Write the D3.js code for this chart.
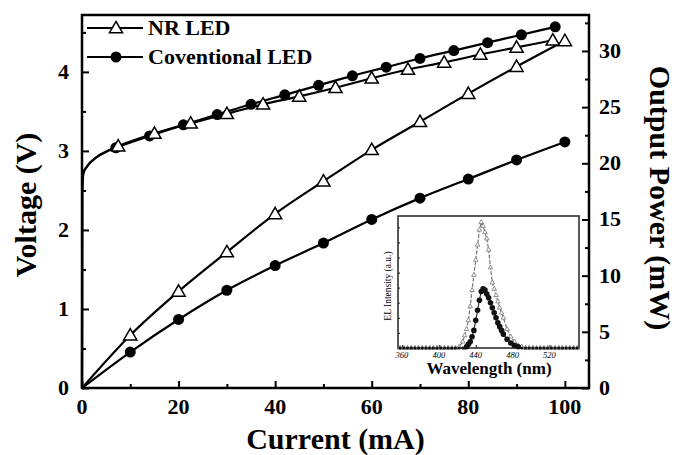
<!DOCTYPE html>
<html>
<head>
<meta charset="utf-8">
<script src="https://cdn.jsdelivr.net/npm/d3@7"></script>
<style>
  body { margin: 0; background: #fff; }
</style>
</head>
<body>
<div id="chart"></div>
<script>
(function () {
  "use strict";

  ////////////////////////////////////////////////////////////////////////////////////////////////////////////
  //
  // Data
  //
  // Shared turn-on part of the I-V curves (current mA, voltage V)
  var turnOnCurrent = [0, 0.05, 0.3, 1, 3, 5];
  var turnOnVoltage = [0, 2.5, 2.72, 2.8, 2.92, 2.99];

  // Voltage, NR LED (triangles)
  var nrVoltCurrent = [7.5, 15, 22.5, 30, 37.5, 45, 52.5, 60, 67.5, 75, 82.5, 90, 97.5];
  var nrVoltage = [3.06, 3.22, 3.35, 3.47, 3.59, 3.69, 3.8, 3.92, 4.03, 4.12, 4.22, 4.31, 4.4];

  // Voltage, conventional LED (circles)
  var convVoltCurrent = [7, 14, 21, 28, 35, 42, 49, 56, 63, 70, 77, 84, 91, 98];
  var convVoltage = [3.04, 3.19, 3.33, 3.46, 3.59, 3.71, 3.83, 3.95, 4.06, 4.17, 4.27, 4.37, 4.47, 4.57];

  // Output power (mW)
  var powerCurrent = [0, 10, 20, 30, 40, 50, 60, 70, 80, 90, 100];
  var nrPower = [0, 4.7, 8.6, 12.1, 15.5, 18.4, 21.2, 23.7, 26.2, 28.6, 30.9];
  var convPower = [0, 3.2, 6.1, 8.7, 10.9, 12.9, 15.0, 16.9, 18.6, 20.3, 21.9];

  // Inset: EL spectra (nm, a.u.)
  var specWl = [358, 362, 366, 370, 374, 378, 382, 386, 390, 394, 398, 402, 406, 410, 414, 418, 422, 426, 428, 430,
    432, 434, 436, 438, 440, 442, 444, 446, 448, 450, 452, 454, 456, 458, 460, 462, 464, 466, 468, 470,
    474, 478, 482, 486, 490, 494, 498, 502, 506, 510, 514, 518, 522, 526, 530, 534, 538, 542, 546, 550];
  var nrSpec = [0, 0, 0, 0, 0, 0, 0, 0, 0, 0, 0, 0, 0, 0, 0, 0, 0.01, 0.05, 0.1, 0.15,
    0.22, 0.33, 0.46, 0.58, 0.7, 0.82, 0.94, 1.0, 0.97, 0.92, 0.87, 0.78, 0.64, 0.52, 0.47, 0.42, 0.37, 0.32, 0.28, 0.24,
    0.15, 0.09, 0.05, 0.02, 0.01, 0, 0, 0, 0, 0, 0, 0, 0, 0, 0, 0, 0, 0, 0, 0];
  var convSpec = [0, 0, 0, 0, 0, 0, 0, 0, 0, 0, 0, 0, 0, 0, 0, 0, 0, 0, 0, 0.01,
    0.03, 0.05, 0.09, 0.14, 0.22, 0.3, 0.38, 0.45, 0.47, 0.46, 0.43, 0.4, 0.36, 0.32, 0.28, 0.24, 0.2, 0.17, 0.14, 0.11,
    0.07, 0.04, 0.02, 0.01, 0, 0, 0, 0, 0, 0, 0, 0, 0, 0, 0, 0, 0, 0, 0, 0];

  // Tick values
  var xTicks = [0, 20, 40, 60, 80, 100];
  var yLeftTicks = [0, 1, 2, 3, 4];
  var yRightTicks = [0, 5, 10, 15, 20, 25, 30];
  var insetXTicks = [360, 400, 440, 480, 520];

  var legendLabels = ["NR LED", "Coventional LED"];

  ////////////////////////////////////////////////////////////////////////////////////////////////////////////
  //
  // Layout
  //
  var W = 678, H = 455;
  var plot = { left: 82, right: 589, top: 15, bottom: 388 };
  var inset = { left: 398, right: 579, top: 216, bottom: 348 };
  var SERIF = "'Liberation Serif', 'DejaVu Serif', 'Times New Roman', serif";

  var svg = d3.select("#chart").append("svg")
    .attr("width", W)
    .attr("height", H)
    .attr("font-family", SERIF);

  var x = d3.scaleLinear().domain([0, 105]).range([plot.left, plot.right]);
  var yV = d3.scaleLinear().domain([0, 4.72]).range([plot.bottom, plot.top]);
  var yP = d3.scaleLinear().domain([0, 33.2]).range([plot.bottom, plot.top]);

  function zip(a, b) {
    return a.map(function (d, i) { return [d, b[i]]; });
  }

  function label(g, size, bold) {
    return g.append("text")
      .attr("font-family", SERIF)
      .attr("font-size", size)
      .attr("font-weight", bold === false ? "normal" : "bold")
      .attr("fill", "#000");
  }

  var triangle = d3.symbol().type(d3.symbolTriangle).size(75);
  var smallTriangle = d3.symbol().type(d3.symbolTriangle).size(9);

  ////////////////////////////////////////////////////////////////////////////////////////////////////////////
  //
  // Axes (ticks pointing inward, minor ticks between majors)
  //
  var axisG = svg.append("g").attr("class", "axes");

  axisG.append("g")
    .attr("transform", "translate(0," + plot.bottom + ")")
    .call(d3.axisTop(x).tickValues(d3.range(10, 105, 20)).tickSize(4).tickFormat(""));
  axisG.append("g")
    .attr("transform", "translate(0," + plot.bottom + ")")
    .call(d3.axisTop(x).tickValues(xTicks).tickSize(7).tickFormat(""));
  axisG.append("g")
    .attr("transform", "translate(" + plot.left + ",0)")
    .call(d3.axisRight(yV).tickValues([0.5, 1.5, 2.5, 3.5, 4.5]).tickSize(4).tickFormat(""));
  axisG.append("g")
    .attr("transform", "translate(" + plot.left + ",0)")
    .call(d3.axisRight(yV).tickValues(yLeftTicks).tickSize(7).tickFormat(""));
  axisG.append("g")
    .attr("transform", "translate(" + plot.right + ",0)")
    .call(d3.axisLeft(yP).tickValues([2.5, 7.5, 12.5, 17.5, 22.5, 27.5, 32.5]).tickSize(4).tickFormat(""));
  axisG.append("g")
    .attr("transform", "translate(" + plot.right + ",0)")
    .call(d3.axisLeft(yP).tickValues(yRightTicks).tickSize(7).tickFormat(""));
  axisG.selectAll(".domain").remove();
  axisG.selectAll(".tick line").attr("stroke", "#000").attr("stroke-width", 2);

  // Frame
  svg.append("rect")
    .attr("x", plot.left).attr("y", plot.top)
    .attr("width", plot.right - plot.left).attr("height", plot.bottom - plot.top)
    .attr("fill", "none").attr("stroke", "#000").attr("stroke-width", 2.5);

  // Tick labels
  xTicks.forEach(function (d) {
    label(svg, 22).attr("x", x(d)).attr("y", plot.bottom + 26).attr("text-anchor", "middle").text(d);
  });
  yLeftTicks.forEach(function (d) {
    label(svg, 22).attr("x", plot.left - 13).attr("y", yV(d) + 7).attr("text-anchor", "end").text(d);
  });
  yRightTicks.forEach(function (d) {
    label(svg, 22).attr("x", plot.right + 10).attr("y", yP(d) + 7).attr("text-anchor", "start").text(d);
  });

  // Axis titles
  label(svg, 30).attr("x", (plot.left + plot.right) / 2).attr("y", 449)
    .attr("text-anchor", "middle").text("Current (mA)");
  label(svg, 30).attr("transform", "translate(36,205) rotate(-90)")
    .attr("text-anchor", "middle").text("Voltage (V)");
  label(svg, 30).attr("transform", "translate(650,198) rotate(90)")
    .attr("text-anchor", "middle").text("Output Power (mW)");

  ////////////////////////////////////////////////////////////////////////////////////////////////////////////
  //
  // Series
  //
  var lineV = d3.line()
    .x(function (d) { return x(d[0]); })
    .y(function (d) { return yV(d[1]); })
    .curve(d3.curveMonotoneX);
  var lineP = d3.line()
    .x(function (d) { return x(d[0]); })
    .y(function (d) { return yP(d[1]); })
    .curve(d3.curveMonotoneX);

  var turnOn = zip(turnOnCurrent, turnOnVoltage);
  var nrV = zip(nrVoltCurrent, nrVoltage);
  var convV = zip(convVoltCurrent, convVoltage);
  var nrP = zip(powerCurrent, nrPower);
  var convP = zip(powerCurrent, convPower);

  var lines = svg.append("g").attr("fill", "none").attr("stroke", "#000").attr("stroke-width", 2.2);
  lines.append("path").attr("d", lineV(turnOn.concat(convV)));
  lines.append("path").attr("d", lineV(turnOn.concat(nrV)));
  lines.append("path").attr("d", lineP(nrP));
  lines.append("path").attr("d", lineP(convP));

  function addTriangles(data, yScale) {
    svg.append("g").selectAll("path").data(data).enter().append("path")
      .attr("d", triangle)
      .attr("transform", function (d) { return "translate(" + x(d[0]) + "," + (yScale(d[1]) + 1) + ")"; })
      .attr("fill", "#fff").attr("stroke", "#000").attr("stroke-width", 1.5);
  }

  function addCircles(data, yScale) {
    svg.append("g").selectAll("circle").data(data).enter().append("circle")
      .attr("cx", function (d) { return x(d[0]); })
      .attr("cy", function (d) { return yScale(d[1]); })
      .attr("r", 5.5)
      .attr("fill", "#000");
  }

  addCircles(convV, yV);
  addTriangles(nrV, yV);
  addCircles(convP.slice(1), yP);
  addTriangles(nrP.slice(1), yP);

  ////////////////////////////////////////////////////////////////////////////////////////////////////////////
  //
  // Legend
  //
  var legend = svg.append("g");
  legendLabels.forEach(function (txt, i) {
    var ly = 28 + i * 29;
    legend.append("line")
      .attr("x1", 87).attr("x2", 143).attr("y1", ly).attr("y2", ly)
      .attr("stroke", "#000").attr("stroke-width", 2.2);
    if (i === 0) {
      legend.append("path").attr("d", triangle)
        .attr("transform", "translate(116," + (ly + 1) + ")")
        .attr("fill", "#fff").attr("stroke", "#000").attr("stroke-width", 1.5);
    } else {
      legend.append("circle").attr("cx", 116).attr("cy", ly).attr("r", 5.5).attr("fill", "#000");
    }
    label(legend, 22).attr("x", 148).attr("y", ly + 7).text(txt);
  });

  ////////////////////////////////////////////////////////////////////////////////////////////////////////////
  //
  // Inset: EL spectra
  //
  var ix = d3.scaleLinear().domain([355.7, 552]).range([inset.left, inset.right]);
  var iy = d3.scaleLinear().domain([0, 1.05]).range([inset.bottom, inset.top]);
  var insetG = svg.append("g");

  insetG.append("rect")
    .attr("x", inset.left).attr("y", inset.top)
    .attr("width", inset.right - inset.left).attr("height", inset.bottom - inset.top)
    .attr("fill", "#fff").attr("stroke", "#222").attr("stroke-width", 1.5);

  insetG.append("g")
    .attr("transform", "translate(0," + inset.bottom + ")")
    .call(d3.axisTop(ix).tickValues(insetXTicks).tickSize(3).tickFormat(""));
  insetG.append("g")
    .attr("transform", "translate(" + inset.left + ",0)")
    .call(d3.axisRight(iy).tickValues(d3.range(0.12, 1.0, 0.12)).tickSize(2).tickFormat(""));
  insetG.selectAll(".domain").remove();
  insetG.selectAll(".tick line").attr("stroke", "#333").attr("stroke-width", 1.2);

  insetXTicks.forEach(function (d) {
    label(insetG, 8.5, false).attr("x", ix(d)).attr("y", inset.bottom + 10)
      .attr("text-anchor", "middle").attr("font-style", "italic").text(d);
  });
  label(insetG, 17).attr("x", 489).attr("y", 374).attr("text-anchor", "middle").text("Wavelength (nm)");
  label(insetG, 9.5, false).attr("transform", "translate(391,286) rotate(-90)")
    .attr("text-anchor", "middle").text("EL Intensity (a.u.)");

  var specLine = d3.line()
    .x(function (d) { return ix(d[0]); })
    .y(function (d) { return iy(d[1]); });
  var nrS = zip(specWl, nrSpec);
  var convS = zip(specWl, convSpec);

  insetG.append("path").attr("d", specLine(nrS))
    .attr("fill", "none").attr("stroke", "#777").attr("stroke-width", 1.2).attr("stroke-dasharray", "4,1.5");
  insetG.append("path").attr("d", specLine(convS))
    .attr("fill", "none").attr("stroke", "#333").attr("stroke-width", 1.2);
  insetG.append("g").selectAll("path").data(nrS).enter().append("path")
    .attr("d", smallTriangle)
    .attr("transform", function (d) { return "translate(" + ix(d[0]) + "," + iy(d[1]) + ")"; })
    .attr("fill", "#fff").attr("stroke", "#777").attr("stroke-width", 0.8);
  insetG.append("g").selectAll("circle").data(convS).enter().append("circle")
    .attr("cx", function (d) { return ix(d[0]); })
    .attr("cy", function (d) { return iy(d[1]); })
    .attr("r", function (d) { return d[1] > 0 ? 2.8 : 1.6; })
    .attr("fill", "#111");
})();
</script>
</body>
</html>
